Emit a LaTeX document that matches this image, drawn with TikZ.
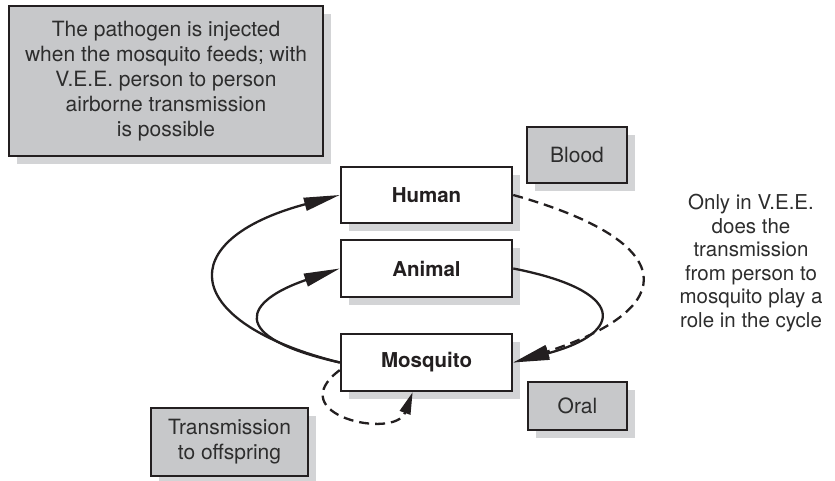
\documentclass[tikz,border=0pt]{standalone}
\usepackage{fontspec}
\setmainfont{TeX Gyre Heros}
\usetikzlibrary{arrows.meta,shadows}
\definecolor{boxgray}{RGB}{199,200,202}
\definecolor{shadegray}{RGB}{211,212,214}
\definecolor{ink}{RGB}{35,31,32}
\definecolor{txt}{RGB}{45,45,45}
\tikzset{
  shbox/.style={draw=ink, line width=2.5pt, rectangle, inner sep=0pt, align=center,
    drop shadow={shadow xshift=8pt, shadow yshift=-8pt, fill=shadegray, opacity=1}},
  graybox/.style={shbox, fill=boxgray, text=txt, font=\fontsize{21}{25}\selectfont},
  whitebox/.style={shbox, fill=white, text=ink, font=\fontsize{20.5}{24}\selectfont\bfseries},
  conn/.style={draw=ink, line width=2.3pt},
  bigtip/.style={-{Triangle[length=36pt,width=13pt]}},
  smalltip/.style={-{Triangle[length=22pt,width=11pt]}},
  dash5/.style={dash pattern=on 10pt off 6pt}
}
\begin{document}
\begin{tikzpicture}[x=1pt,y=-1pt]
\useasboundingbox (0,0) rectangle (835,481);
\node[graybox, minimum width=314pt, minimum height=150pt] (info) at (166,81)
  {The pathogen is injected\\when the mosquito feeds; with\\V.E.E. person to person\\airborne transmission\\is possible};
\node[graybox, minimum width=100pt, minimum height=56pt] (blood) at (577,155) {Blood};
\node[graybox, minimum width=99pt, minimum height=48pt] (oral) at (577.5,406) {Oral};
\node[graybox, minimum width=157pt, minimum height=68pt] (offs) at (229.5,442) {Transmission\\to offspring};
\node[whitebox, minimum width=171pt, minimum height=56pt] (human) at (426.5,195) {Human};
\node[whitebox, minimum width=171pt, minimum height=57pt] (animal) at (426.5,268.5) {Animal};
\node[whitebox, minimum width=171pt, minimum height=57pt] (mosq) at (426.5,362.5) {Mosquito};
\node[text=txt, align=center, font=\fontsize{20.5}{23.5}\selectfont] (note) at (751,263)
  {Only in V.E.E.\\does the\\transmission\\from person to\\mosquito play a\\role in the cycle};
% connectors
\draw[conn, bigtip] (mosq.west) .. controls +(-160,-40) and +(-168,45) .. (human.west);
\draw[conn, bigtip] (mosq.west) .. controls +(-116,-26) and +(-94,32) .. (animal.west);
\draw[conn, bigtip] (animal.east) .. controls +(113,22) and +(113,-30) .. (mosq.east);
\draw[conn, bigtip, dash5] (human.east) .. controls +(168,47) and +(168,-54) .. (mosq.east);
\draw[conn, smalltip, dash5] (mosq.185) .. controls (280,415) and (395,440) .. (mosq.245);
\end{tikzpicture}
\end{document}
